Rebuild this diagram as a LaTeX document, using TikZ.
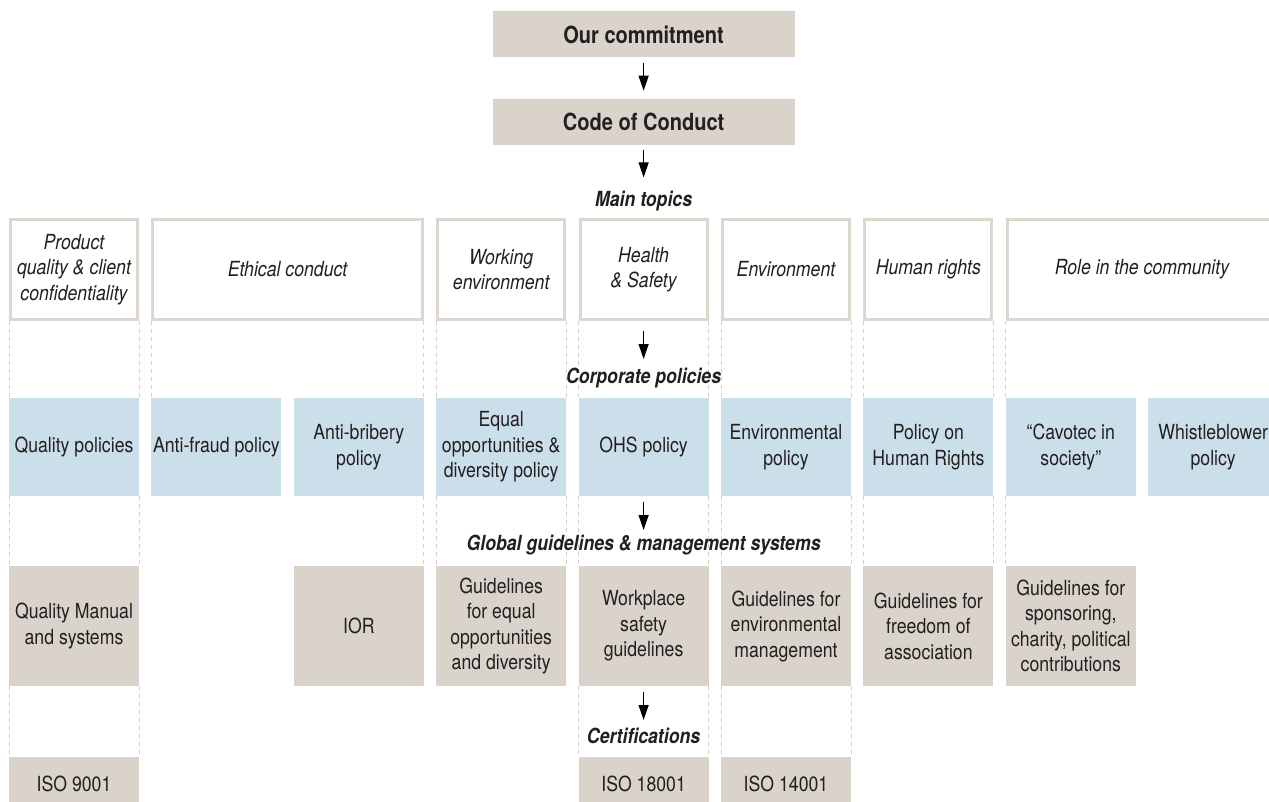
\documentclass[tikz,border=0pt]{standalone}
\usepackage{fontspec}
\setmainfont{TeX Gyre Heros}[FakeStretch=0.85]
\usetikzlibrary{arrows.meta}
\definecolor{beige}{HTML}{D9D3CC}
\definecolor{beigeline}{HTML}{DDD7D0}
\definecolor{lightblue}{HTML}{CBDFEA}
\definecolor{inkgray}{HTML}{231F20}
\definecolor{dashgray}{HTML}{D6D0C9}

\begin{document}
\begin{tikzpicture}[x=0.5pt, y=-0.5pt,
  every node/.style={inner sep=0pt, outer sep=0pt, align=center, text=inkgray, font=\fontsize{10.4}{12.75}\selectfont},
  headbox/.style={fill=beige, minimum width=151pt, minimum height=23pt, font=\bfseries\fontsize{11.8}{14}\selectfont},
  topicbox/.style={draw=beigeline, line width=1.5pt, fill=white, minimum width=63.5pt, minimum height=50pt, font=\itshape\fontsize{10.4}{12.75}\selectfont},
  widetopic/.style={topicbox, minimum width=134.7pt},
  policybox/.style={fill=lightblue, minimum width=65pt, minimum height=49pt},
  guidebox/.style={fill=beige, minimum width=65pt, minimum height=60pt},
  isobox/.style={fill=beige, minimum width=65pt, minimum height=26.5pt},
  steplabel/.style={font=\bfseries\itshape\fontsize{10.4}{12.75}\selectfont, text height=7.5pt, text depth=2.2pt, anchor=base},
  arr/.style={-{Triangle[length=7.5pt, width=5pt]}, line width=0.6pt, draw=black},
  guide/.style={draw=dashgray, line width=0.5pt, dash pattern=on 2pt off 2pt}]
  \useasboundingbox (0,0) rectangle (1269,802);
  \clip (0,0) rectangle (1269,802);
  \fill[white] (0,0) rectangle (1269,802);

  % dashed column guides
  \foreach \x in {9,139,151.4,423.8,436.2,566.2,578.6,708.6,721,851,863.4,993.4,1005.8}
    \draw[guide] (\x,321) -- (\x,398);
  \foreach \x in {9,139,423.8,436.2,566.2,578.6,708.6,721,851,863.4,993.4,1005.8}
    \draw[guide] (\x,496) -- (\x,566);
  \foreach \x in {9,139,578.6,708.6,721,851}
    \draw[guide] (\x,686) -- (\x,757);

  % commitment and code
  \node[headbox] (commit) at (643.6,34.5) {Our commitment};
  \node[headbox] (code) at (643.6,122) {Code of Conduct};
  \node[steplabel] (topicslbl) at (643.6,207) {Main topics};

  % main topics
  \node[topicbox] (qual) at (74,269.5) {Product\\quality \& client\\confidentiality};
  \node[widetopic] (ethic) at (287.6,269.5) {Ethical conduct};
  \node[topicbox] (workenv) at (501.2,269.5) {Working\\environment};
  \node[topicbox] (hs) at (643.6,269.5) {Health\\\& Safety};
  \node[topicbox] (envir) at (786,269.5) {Environment};
  \node[topicbox] (hr) at (928.4,269.5) {Human rights};
  \node[widetopic] (role) at (1142,269.5) {Role in the community};

  % corporate policies
  \node[steplabel] (corplbl) at (643.6,383) {Corporate policies};
  \node[policybox] (pqual) at (74,447) {Quality policies};
  \node[policybox] (pfraud) at (216.4,447) {Anti-fraud policy};
  \node[policybox] (pbribe) at (358.8,447) {Anti-bribery\\policy};
  \node[policybox] (pequal) at (501.2,447) {Equal\\opportunities \&\\diversity policy};
  \node[policybox] (pohs) at (643.6,447) {OHS policy};
  \node[policybox] (penv) at (786,447) {Environmental\\policy};
  \node[policybox] (phr) at (928.4,447) {Policy on\\Human Rights};
  \node[policybox] (pcav) at (1070.8,447) {``Cavotec in\\society''};
  \node[policybox] (pwhist) at (1213.2,447) {Whistleblower\\policy};

  % guidelines and management systems
  \node[steplabel] (guidelbl) at (643.6,550) {Global guidelines \& management systems};
  \node[guidebox] (gqual) at (74,626) {Quality Manual\\and systems};
  \node[guidebox] (gior) at (358.8,626) {IOR};
  \node[guidebox] (gequal) at (501.2,626) {Guidelines\\for equal\\opportunities\\and diversity};
  \node[guidebox] (gwork) at (643.6,626) {Workplace\\safety\\guidelines};
  \node[guidebox] (genv) at (786,626) {Guidelines for\\environmental\\management};
  \node[guidebox] (ghr) at (928.4,626) {Guidelines for\\freedom of\\association};
  \node[guidebox] (gspons) at (1070.8,626) {Guidelines for\\sponsoring,\\charity, political\\contributions};

  % certifications
  \node[steplabel] (certlbl) at (643.6,743) {Certifications};
  \node[isobox] (iso9) at (74,783.5) {ISO 9001};
  \node[isobox] (iso18) at (643.6,783.5) {ISO 18001};
  \node[isobox] (iso14) at (786,783.5) {ISO 14001};

  \draw[arr, shorten <=2.75pt, shorten >=4.15pt] (commit) -- (code);
  \draw[arr, shorten <=2.5pt, shorten >=7.3pt] (code) -- (topicslbl);
  \draw[arr, shorten <=5.6pt, shorten >=4.5pt] (hs) -- (corplbl);
  \draw[arr, shorten <=2.85pt, shorten >=2.5pt] (pohs) -- (guidelbl);
  \draw[arr, shorten <=2.85pt, shorten >=4pt] (gwork) -- (certlbl);
\end{tikzpicture}
\end{document}
